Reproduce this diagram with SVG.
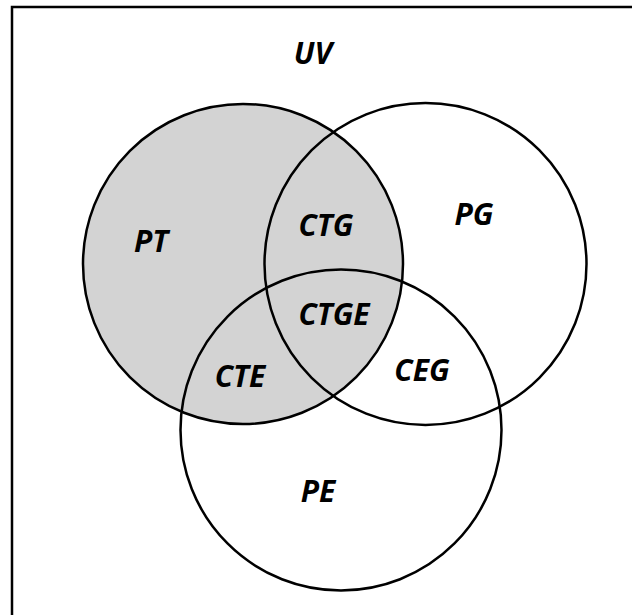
<svg xmlns="http://www.w3.org/2000/svg" width="632" height="615" viewBox="0 0 632 615">
<style>
.ring{stroke:#000;stroke-width:2.5}
.lbl{font-family:"Open Sans","Liberation Sans",sans-serif;font-weight:bold;font-style:italic;font-size:30px;fill:#000;text-anchor:middle}
</style>
<rect x="0" y="0" width="632" height="615" fill="#fff"/>
<g id="universe">
<path d="M12 615 V7 H632" fill="none" stroke="#000" stroke-width="2.5"/>
<text class="lbl" x="313" y="64">UV</text>
</g>
<g id="PT">
<circle class="ring" cx="243" cy="264" r="160" fill="#d3d3d3"/>
</g>
<g id="PG">
<circle class="ring" cx="425.5" cy="264" r="161" fill="none"/>
</g>
<g id="PE">
<circle class="ring" cx="341" cy="430" r="160.5" fill="none"/>
</g>
<g id="labels">
<text class="lbl" x="151" y="252">PT</text>
<text class="lbl" x="326" y="236">CTG</text>
<text class="lbl" x="474" y="225">PG</text>
<text class="lbl" x="334" y="325">CTGE</text>
<text class="lbl" x="240" y="387">CTE</text>
<text class="lbl" x="422" y="381">CEG</text>
<text class="lbl" x="318" y="502">PE</text>
</g>
</svg>
